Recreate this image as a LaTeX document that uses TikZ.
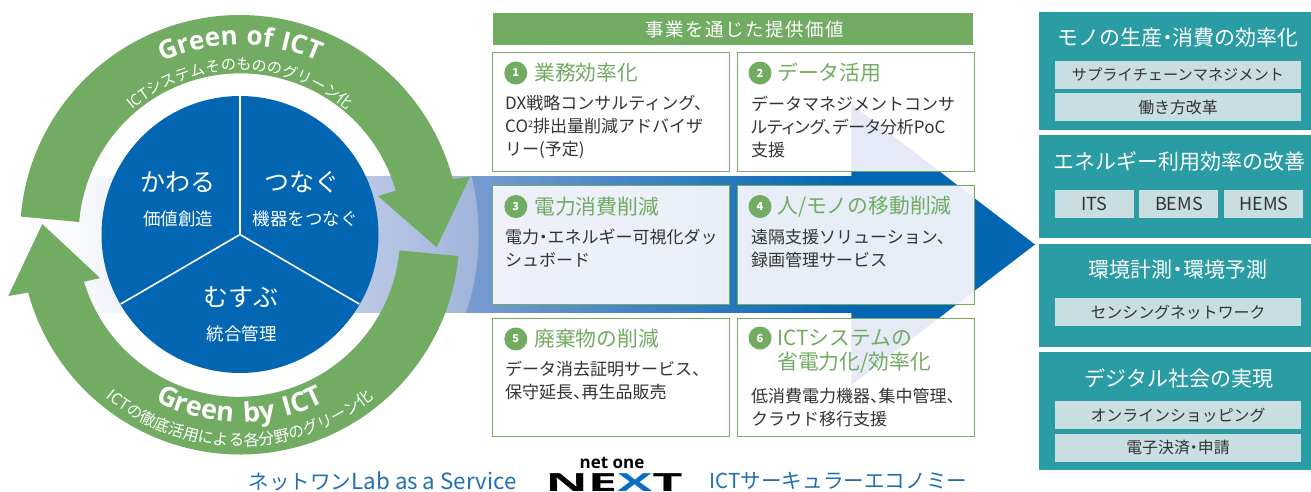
\documentclass[tikz,border=0pt]{standalone}
\usepackage{fontspec}
\usetikzlibrary{decorations.text,shapes.geometric}
\setmainfont{Noto Sans CJK JP}
\newfontfamily\paltf{Noto Sans CJK JP}[RawFeature=+palt]
\newfontfamily\titlefont{Open Sans}
\newcommand{\tenm}{{\paltf 、}}
\newcommand{\nak}{{\paltf ・}}
\definecolor{gr}{HTML}{72AB62}
\definecolor{bl}{HTML}{0366B3}
\definecolor{logobl}{HTML}{0A6FC4}
\definecolor{teal1}{HTML}{2A9CA3}
\definecolor{pale}{HTML}{C9DEE1}
\definecolor{ink}{HTML}{333333}
\definecolor{linkbl}{HTML}{1F6FB5}
\definecolor{bandA}{HTML}{A0B4DB}
\definecolor{bandB}{HTML}{7F9FD3}
\definecolor{lav}{HTML}{F8F8FD}
\definecolor{lavtip}{HTML}{E5EAF6}
\newcommand{\fs}[2]{\fontsize{#1}{#2}\selectfont}
\tikzset{
  x=1pt,y=1pt,
  valuebox/.style={draw=gr,line width=1pt,fill=white},
  lavbox/.style={draw=gr,line width=1pt,fill=lav,fill opacity=.93},
  head/.style={anchor=west,inner sep=0,text=gr,font=\fs{20.8}{24}},
  body/.style={anchor=west,inner sep=0,text=ink,font=\fs{17}{23},align=left},
  bullet/.style={circle,fill=gr,inner sep=0,minimum size=23,text=white,font=\fs{11}{11}\bfseries},
  tealbox/.style={fill=teal1},
  palebox/.style={fill=pale},
  teallabel/.style={text=white,inner sep=0,font=\fs{21}{24}},
  palelabel/.style={text=ink,inner sep=0,font=\fs{15.9}{20}},
  circbig/.style={text=white,inner sep=0,font=\fs{25}{28}},
  circsmall/.style={text=white,inner sep=0,font=\fs{17.5}{20}},
  linktext/.style={text=linkbl,inner sep=0,font=\fs{20.6}{24}},
}
\begin{document}
\begin{tikzpicture}
\useasboundingbox (0,0) rectangle (1311,-491);
% band
\shade[left color=bandB,right color=bl] (445,-176) rectangle (852,-312.7);
\begin{scope}
 \clip (240,-235) circle (238.7);
 \shade[left color=white,right color=bandA] (45,-176) rectangle (480,-312.7);
\end{scope}
\fill[bl] (851.4,-104) -- (1035,-244.5) -- (851.4,-385) -- cycle;
% circle
\fill[bl] (240,-234.5) circle (138.5);
\draw[white,line width=1.6pt] (240,-234.5) -- (240,-96);
\draw[white,line width=1.6pt] (240,-234.5) -- (120.7,-304);
\draw[white,line width=1.6pt] (240,-234.5) -- (359.3,-304);
\node[circbig] (kawaru) at (178,-182) {かわる};
\node[circsmall] (kachi) at (178,-219) {価値創造};
\node[circbig] (tsunagu) at (302,-182) {つなぐ};
\node[circsmall] (kiki) at (305,-219) {機器をつなぐ};
\node[circbig] (musubu) at (241,-297) {むすぶ};
\node[circsmall] (togo) at (241.5,-334) {統合管理};
% green arrows
\fill[gr] ([shift={(240,-235)}]175.2:220) arc[start angle=175.2,end angle=14.75,radius=220]
  -- (470,-176.7) -- (436.7,-247.3) -- (378,-196) -- (395.7,-190.7)
  arc[start angle=15.9,end angle=175.4,radius=161.6] -- cycle;
\fill[gr] ([shift={(240,-235)}]-5.5:219.5) arc[start angle=-5.5,end angle=-164.8,radius=219.5]
  -- (8.3,-296) -- (42.3,-224) -- (100,-278) -- (84,-281.7)
  arc[start angle=-163.3,end angle=-5.36,radius=161.5] -- cycle;
% arc labels
\path[decorate,decoration={text along path,text align=center,
  text={|\titlefont\addfontfeature{LetterSpace=4}\bfseries\fs{26}{28}\color{white}|Green of ICT}}]
  ([shift={(240,-235)}]150:190) arc[start angle=150,end angle=30,radius=190];
\path[decorate,decoration={text along path,text align=center,
  text={|\fs{15.1}{18}\color{white}|ICTシステムそのもののグリーン化}}]
  ([shift={(240,-235)}]150:165) arc[start angle=150,end angle=30,radius=165];
\path[decorate,decoration={text along path,text align=center,
  text={|\titlefont\addfontfeature{LetterSpace=12}\bfseries\fs{27}{28}\color{white}|Green by ICT}}]
  ([shift={(240,-235)}]-150:187) arc[start angle=-150,end angle=-30,radius=187];
\path[decorate,decoration={text along path,text align=center,
  text={|\fs{15.7}{18}\color{white}|ICTの徹底活用による各分野のグリーン化}}]
  ([shift={(240,-235)}]-140:211) arc[start angle=-140,end angle=-40,radius=211];
% header
\fill[gr] (493,-13) rectangle (973,-45);
\node[text=white,inner sep=0,font=\addfontfeature{LetterSpace=8}\fs{18.5}{20}] (hdr) at (745,-29) {事業を通じた提供価値};
% value boxes
\draw[valuebox] (492,-52.5) rectangle (729,-171);
\draw[valuebox] (737,-52.5) rectangle (974,-171);
\draw[lavbox] (492,-185.5) rectangle (729,-304);
\draw[lavbox] (737,-185.5) rectangle (974,-304);
\draw[valuebox] (492,-318) rectangle (729,-436.5);
\draw[valuebox] (737,-318) rectangle (974,-436.5);
\begin{scope}
 \clip (851.4,-104) -- (1035,-244.5) -- (851.4,-385) -- cycle;
 \fill[lavtip] (737.5,-53) rectangle (973.5,-170.5);
 \fill[lavtip] (737.5,-318.5) rectangle (973.5,-436);
\end{scope}
\node[bullet] (b1) at (515.8,-73) {1};
\node[head] (h1) at (534,-73) {業務効率化};
\node[body] (t1) at (505,-127) {DX戦略コンサルティング、\\CO{\fs{9}{9}\raisebox{5pt}{2}}排出量削減アドバイザ\\リー(予定)};
\node[bullet] (b2) at (760,-73) {2};
\node[head] (h2) at (777,-73) {データ活用};
\node[body] (t2) at (751,-127) {データマネジメントコンサ\\{\paltf ルティング、データ}分析PoC\\支援};
\node[bullet] (b3) at (515.8,-206.5) {3};
\node[head] (h3) at (534,-206.5) {電力消費削減};
\node[body] (t3) at (505,-248.5) {電力\nak エネルギー可視化ダッ\\シュボード};
\node[bullet] (b4) at (760,-206.5) {4};
\node[head] (h4) at (777,-206.5) {人/モノの移動削減};
\node[bullet] (b5) at (515.8,-339) {5};
\node[body] (t4) at (751,-248.5) {遠隔支援ソリューション、\\録画管理サービス};
\node[head] (h5) at (534,-339) {廃棄物の削減};
\node[body] (t5) at (505,-380.5) {データ消去証明サービス、\\保守延長\tenm 再生品販売};
\node[bullet] (b6) at (760,-338) {6};
\node[head,align=left] (h6) at (777,-351) {ICTシステムの\\省電力化/効率化};
\node[body] (t6) at (751,-407.5) {低消費電力機器\tenm 集中管理\tenm\\クラウド移行支援};
% right column
\fill[tealbox] (1039,-12.3) rectangle (1311,-130);
\fill[tealbox] (1039,-135) rectangle (1311,-238);
\fill[tealbox] (1039,-244) rectangle (1311,-347);
\fill[tealbox] (1039,-352) rectangle (1311,-470);
\node[teallabel] (m1) at (1178,-38) {モノの生産\nak 消費の効率化};
\node[teallabel] (m2) at (1179,-161) {エネルギー利用効率の改善};
\node[teallabel] (m3) at (1178,-270) {環境計測\nak 環境予測};
\node[teallabel] (m4) at (1179,-378) {デジタル社会の実現};
\fill[palebox] (1055,-61) rectangle (1301,-89);
\fill[palebox] (1055,-93) rectangle (1301,-121);
\fill[palebox] (1055,-190) rectangle (1134,-218);
\fill[palebox] (1139,-190) rectangle (1218,-218);
\fill[palebox] (1224,-190) rectangle (1303,-218);
\fill[palebox] (1055,-298) rectangle (1301,-326);
\fill[palebox] (1055,-401) rectangle (1301,-429);
\fill[palebox] (1055,-434) rectangle (1301,-462);
\node[palelabel,font=\fs{15.2}{20}] (p1) at (1178,-75) {サプライチェーンマネジメント};
\node[palelabel] (p2) at (1178,-107) {働き方改革};
\node[palelabel,font=\fs{18}{20}] (p3) at (1094.5,-204) {ITS};
\node[palelabel,font=\fs{18}{20}] (p4) at (1179,-204) {BEMS};
\node[palelabel,font=\fs{18}{20}] (p5) at (1264,-204) {HEMS};
\node[palelabel] (p6) at (1178,-312) {センシングネットワーク};
\node[palelabel] (p7) at (1178,-415) {オンラインショッピング};
\node[palelabel] (p8) at (1178,-448) {電子決済\nak 申請};
% bottom
\node[linktext] (l1) at (382.5,-481) {ネットワン{\fs{22.3}{24}Lab as a Service}};
\node[linktext] (l2) at (838.5,-481) {ICTサーキュラーエコノミー};
\node[inner sep=0,font=\titlefont\bfseries\fs{17}{20}] (n1) at (612,-463) {net one};
\node[inner sep=0,font=\titlefont\bfseries\fs{25}{28}] (n2) at (614,-483) {\scalebox{2.1}[1]{NE\textcolor{logobl}{X}T}};
\end{tikzpicture}
\end{document}
